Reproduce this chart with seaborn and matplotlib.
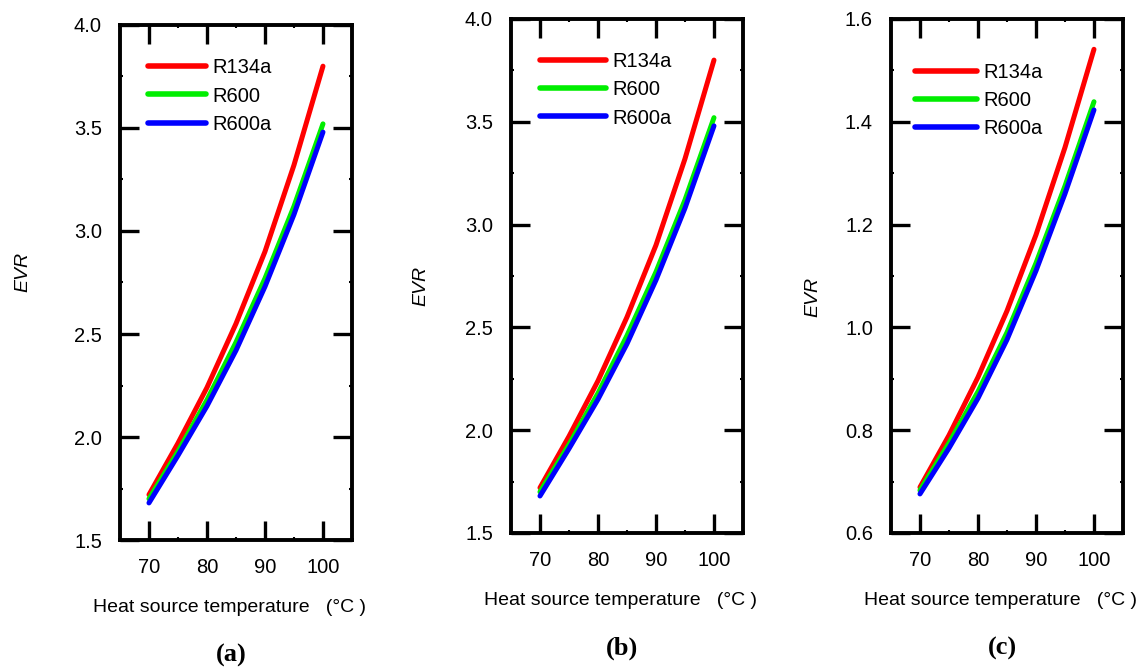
from matplotlib import pyplot as plt
from matplotlib.ticker import MultipleLocator
import pandas as pd
import seaborn as sns

# heat source temperature (°C)
temperature = [70, 75, 80, 85, 90, 95, 100]

# (a) EVR
evr_a_r134a = [1.72, 1.97, 2.24, 2.55, 2.90, 3.32, 3.80]
evr_a_r600 = [1.70, 1.93, 2.18, 2.46, 2.77, 3.12, 3.52]
evr_a_r600a = [1.68, 1.91, 2.15, 2.42, 2.73, 3.08, 3.48]

# (b) EVR
evr_b_r134a = [1.72, 1.97, 2.24, 2.55, 2.90, 3.32, 3.80]
evr_b_r600 = [1.70, 1.93, 2.18, 2.46, 2.77, 3.12, 3.52]
evr_b_r600a = [1.68, 1.91, 2.15, 2.42, 2.73, 3.08, 3.48]

# (c) EVR
evr_c_r134a = [0.689, 0.790, 0.903, 1.032, 1.180, 1.350, 1.541]
evr_c_r600 = [0.683, 0.775, 0.875, 0.990, 1.125, 1.275, 1.439]
evr_c_r600a = [0.676, 0.765, 0.862, 0.976, 1.110, 1.260, 1.423]

fluids = ["R134a", "R600", "R600a"]
colors = {"R134a": "#ff0000", "R600": "#00ee00", "R600a": "#0000ff"}


def make_df(r134a, r600, r600a):
    frames = []
    for name, vals in zip(fluids, [r134a, r600, r600a]):
        frames.append(pd.DataFrame({"T": temperature, "EVR": vals, "Fluid": name}))
    return pd.concat(frames, ignore_index=True)


sns.set_style("ticks")
plt.rcParams["font.family"] = ["Liberation Sans", "DejaVu Sans"]
plt.rcParams["text.color"] = "black"
plt.rcParams["axes.labelcolor"] = "black"
plt.rcParams["xtick.color"] = "black"
plt.rcParams["ytick.color"] = "black"
plt.rcParams["axes.edgecolor"] = "black"

fig = plt.figure(figsize=(11.48, 6.68), dpi=100)

# panel boxes in figure fractions
boxes = [
    [0.1045, 0.1916, 0.2021, 0.7710],
    [0.4451, 0.2021, 0.2021, 0.7695],
    [0.7761, 0.2021, 0.2021, 0.7695],
]
panels = [
    (make_df(evr_a_r134a, evr_a_r600, evr_a_r600a), (1.5, 4.0), 0.5, "(a)"),
    (make_df(evr_b_r134a, evr_b_r600, evr_b_r600a), (1.5, 4.0), 0.5, "(b)"),
    (make_df(evr_c_r134a, evr_c_r600, evr_c_r600a), (0.6, 1.6), 0.2, "(c)"),
]
# legend settings per panel: anchor x, anchor y, handle length
legend_cfg = [(0.12, 0.935, 2.9), (0.125, 0.935, 3.3), (0.103, 0.915, 3.1)]
ylabel_xy = [(-0.38, 0.52), (-0.35, 0.48), (-0.30, 0.46)]

for box, (df, ylim, step, tag), (lx, ly, hl), (yx, yy) in zip(boxes, panels, legend_cfg, ylabel_xy):
    ax = fig.add_axes(box)
    sns.lineplot(data=df, x="T", y="EVR", hue="Fluid", palette=colors,
                 linewidth=3.6, ax=ax, solid_capstyle="round", solid_joinstyle="round")
    ax.set_xlim(65, 105)
    ax.set_ylim(*ylim)
    ax.xaxis.set_major_locator(MultipleLocator(10))
    ax.xaxis.set_minor_locator(MultipleLocator(5))
    ax.yaxis.set_major_locator(MultipleLocator(step))
    ax.yaxis.set_minor_locator(MultipleLocator(step / 2))
    ax.yaxis.set_major_formatter(plt.FormatStrFormatter("%.1f"))
    ax.tick_params(which="both", direction="in", top=True, right=True)
    ax.tick_params(which="major", length=14, width=2.4, labelsize=14.5, pad=13)
    ax.tick_params(which="minor", length=2, width=1.5)
    for sp in ax.spines.values():
        sp.set_linewidth(2.8)
        sp.set_color("black")
    ax.set_xlabel("Heat source temperature   (°C )", fontsize=14)
    ax.xaxis.set_label_coords(0.47, -0.115)
    ax.set_ylabel("EVR", fontsize=14, style="italic")
    ax.yaxis.set_label_coords(yx, yy)
    leg = ax.legend(loc="upper left", bbox_to_anchor=(lx, ly), frameon=False,
                    fontsize=14.5, handlelength=hl, handletextpad=0.3,
                    labelspacing=0.45, borderpad=0, borderaxespad=0, title=None)
    for h in leg.get_lines():
        h.set_linewidth(4.0)
    ax.text(0.48, -0.225, tag, transform=ax.transAxes, ha="center", va="center",
            fontsize=19, fontweight="bold", family=["Liberation Serif", "DejaVu Serif"])

fig.savefig("out.png", dpi=100)
